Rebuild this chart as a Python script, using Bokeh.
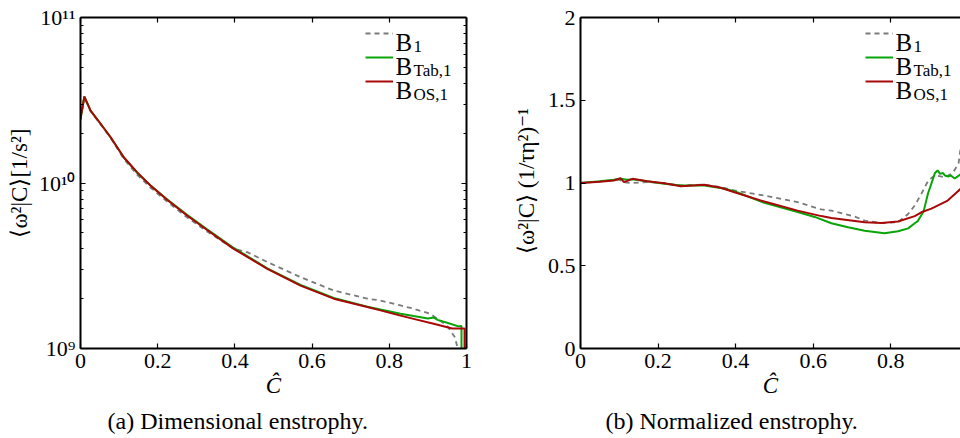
from bokeh.plotting import figure
from bokeh.layouts import row
from bokeh.models import (FixedTicker, LinearAxis, Range1d, Legend, LegendItem,
                          Label, Title)
from bokeh.embed import file_html
from bokeh.resources import INLINE

FONT = "Liberation Serif"

# ---------------- data: panel (a) dimensional enstrophy ----------------
a_b1_x = [0.0, 0.010, 0.026, 0.052, 0.078, 0.112, 0.147, 0.181, 0.225, 0.276, 0.328, 0.397,
          0.432, 0.484, 0.570, 0.656, 0.743, 0.777, 0.829, 0.863, 0.906, 0.949, 0.970, 0.975, 0.975]
a_b1_y = [2.40e10, 3.30e10, 2.72e10, 2.26e10, 1.87e10, 1.40e10, 1.12e10, 9.4e9, 7.7e9, 6.2e9, 5.1e9, 4.0e9,
          3.82e9, 3.33e9, 2.70e9, 2.24e9, 2.00e9, 1.95e9, 1.82e9, 1.74e9, 1.62e9, 1.38e9, 1.17e9, 1.05e9, 5e8]

a_tab_x = [0.0, 0.010, 0.026, 0.052, 0.078, 0.112, 0.147, 0.181, 0.225, 0.276, 0.328, 0.397,
           0.484, 0.570, 0.656, 0.743, 0.777, 0.829, 0.863, 0.900, 0.915, 0.925, 0.950, 0.979, 0.985, 0.987, 0.987]
a_tab_y = [2.44e10, 3.33e10, 2.74e10, 2.28e10, 1.89e10, 1.43e10, 1.15e10, 9.7e9, 7.95e9, 6.42e9, 5.25e9, 4.05e9,
           3.05e9, 2.42e9, 2.02e9, 1.79e9, 1.72e9, 1.62e9, 1.57e9, 1.52e9, 1.54e9, 1.49e9, 1.43e9, 1.36e9, 1.37e9, 1.36e9, 5e8]

a_os_x = [0.0, 0.010, 0.026, 0.052, 0.078, 0.112, 0.147, 0.181, 0.225, 0.276, 0.328, 0.397,
          0.484, 0.570, 0.656, 0.743, 0.777, 0.829, 0.863, 0.915, 0.963, 0.994, 0.995, 0.995]
a_os_y = [2.44e10, 3.33e10, 2.74e10, 2.28e10, 1.89e10, 1.43e10, 1.16e10, 9.66e9, 7.9e9, 6.36e9, 5.2e9, 4.0e9,
          3.03e9, 2.40e9, 2.00e9, 1.78e9, 1.70e9, 1.58e9, 1.51e9, 1.41e9, 1.32e9, 1.32e9, 1.32e9, 5e8]

# ---------------- data: panel (b) normalized enstrophy ----------------
b_b1_x = [0.0, 0.05, 0.100, 0.112, 0.130, 0.172, 0.216, 0.259, 0.319, 0.362, 0.397, 0.474, 0.560,
          0.621, 0.647, 0.707, 0.733, 0.776, 0.819, 0.845, 0.862, 0.879, 0.897, 0.914, 0.940, 0.960, 0.975, 0.983]
b_b1_y = [1.0, 1.01, 1.02, 1.005, 1.0, 1.005, 1.0, 0.985, 0.99, 0.975, 0.955, 0.924, 0.884,
          0.84, 0.833, 0.797, 0.773, 0.757, 0.763, 0.813, 0.864, 0.934, 1.015, 1.047, 1.035, 1.06, 1.118, 1.256]

b_tab_x = [0.0, 0.05, 0.086, 0.103, 0.120, 0.134, 0.172, 0.216, 0.259, 0.319, 0.362, 0.397, 0.474, 0.560,
           0.604, 0.647, 0.690, 0.733, 0.784, 0.819, 0.845, 0.862, 0.870, 0.885, 0.896, 0.914, 0.921, 0.927,
           0.935, 0.940, 0.948, 0.955, 0.965, 0.983]
b_tab_y = [1.0, 1.01, 1.02, 1.025, 1.02, 1.022, 1.01, 0.995, 0.985, 0.985, 0.97, 0.95, 0.88, 0.825,
           0.795, 0.757, 0.733, 0.712, 0.696, 0.708, 0.726, 0.757, 0.77, 0.83, 0.935, 1.06, 1.076, 1.055,
           1.06, 1.045, 1.039, 1.045, 1.027, 1.057]

b_os_x = [0.0, 0.05, 0.086, 0.103, 0.112, 0.134, 0.172, 0.216, 0.259, 0.319, 0.362, 0.397, 0.474, 0.560,
          0.621, 0.647, 0.733, 0.776, 0.819, 0.862, 0.879, 0.905, 0.947, 0.983]
b_os_y = [1.0, 1.008, 1.015, 1.029, 1.005, 1.025, 1.011, 0.999, 0.981, 0.989, 0.971, 0.944, 0.888, 0.833,
          0.80, 0.789, 0.763, 0.759, 0.767, 0.80, 0.823, 0.845, 0.894, 0.97]

# ---------------- ticks / labels ----------------
x_ticks = [0, 0.2, 0.4, 0.6, 0.8, 1.0]
x_tick_labels = ["0", "0.2", "0.4", "0.6", "0.8", "1"]
a_y_ticks = [1e9, 1e10, 1e11]
a_y_tick_labels = ["10⁹", "10¹⁰", "10¹¹"]
a_y_minor = [m * 10 ** e for e in (9, 10) for m in range(2, 10)]
b_y_ticks = [0, 0.5, 1, 1.5, 2]
b_y_tick_labels = ["0", "0.5", "1", "1.5", "2"]

series_names = ["B", "B", "B"]
series_subs = ["1", "Tab,1", "OS,1"]
COL_B1 = "#7a7a7a"
COL_TAB = "#08a408"
COL_OS = "#a80808"


def style_axis(ax, ticks, labels=None, minor=None, show_labels=True):
    ax.ticker = FixedTicker(ticks=ticks, minor_ticks=minor or [])
    ax.axis_line_width = 2
    ax.axis_line_color = "black"
    ax.major_tick_in = 5
    ax.major_tick_out = 0
    ax.major_tick_line_width = 1.2
    ax.minor_tick_in = 3
    ax.minor_tick_out = 0
    ax.minor_tick_line_width = 1
    ax.major_label_text_font = FONT
    ax.major_label_text_font_size = "22px"
    ax.major_label_text_color = "black"
    ax.axis_label_text_font = FONT
    ax.axis_label_text_font_size = "23px"
    ax.axis_label_text_font_style = "normal"
    ax.axis_label_text_color = "black"
    if show_labels:
        ax.major_label_overrides = dict(zip([float(t) for t in ticks], labels))
        ax.major_label_standoff = 5
    else:
        ax.major_label_overrides = {float(t): "" for t in ticks}
        ax.major_label_text_font_size = "1px"
        ax.major_label_standoff = 0


def add_legend(p):
    # legend swatches from the library; the "B" names and their subscripts are set as text labels
    r = p.renderers
    items = [LegendItem(label="", renderers=[r[i]]) for i in range(3)]
    leg = Legend(items=items, location=(285, 255), glyph_width=28, glyph_height=24,
                 label_height=24, label_width=1, label_standoff=0, spacing=0, padding=0, margin=0,
                 border_line_color=None, background_fill_alpha=0,
                 label_text_font=FONT, label_text_font_size="10px")
    p.add_layout(leg)
    for i in range(3):
        p.add_layout(Label(x=315, y=306 - 24 * i, x_units="screen", y_units="screen",
                           text=series_names[i], text_font=FONT, text_font_size="25px",
                           text_baseline="alphabetic", text_color="black"))
        p.add_layout(Label(x=333, y=302 - 24 * i, x_units="screen", y_units="screen",
                           text=series_subs[i], text_font=FONT, text_font_size="17px",
                           text_baseline="alphabetic", text_color="black"))


def draw(p, xs, ys):
    p.line(xs[0], ys[0], line_color=COL_B1, line_width=1.8, line_dash="5 4")
    p.line(xs[1], ys[1], line_color=COL_TAB, line_width=2)
    p.line(xs[2], ys[2], line_color=COL_OS, line_width=2)


def base_fig(width, left, right, **kw):
    p = figure(width=width, height=438, output_backend="svg", toolbar_location=None,
               min_border_left=left, min_border_right=right, min_border_top=17,
               min_border_bottom=90, **kw)
    p.grid.visible = False
    p.outline_line_color = None
    p.background_fill_color = "white"
    p.border_fill_color = "white"
    return p


# ---------------- panel (a) ----------------
p1 = base_fig(490, 80, 24, y_axis_type="log", x_range=Range1d(0, 1), y_range=Range1d(1e9, 1e11))
draw(p1, [a_b1_x, a_tab_x, a_os_x], [a_b1_y, a_tab_y, a_os_y])
style_axis(p1.xaxis[0], x_ticks, x_tick_labels)
style_axis(p1.yaxis[0], a_y_ticks, a_y_tick_labels, minor=a_y_minor)
p1.xaxis[0].axis_label = "Ĉ"
p1.xaxis[0].axis_label_text_font_style = "italic"
p1.xaxis[0].axis_label_standoff = 2
p1.yaxis[0].axis_label = "⟨ω²|C⟩[1/s²]"
p1.yaxis[0].axis_label_standoff = 4
top1 = LinearAxis()
style_axis(top1, x_ticks, show_labels=False)
p1.add_layout(top1, "above")
right1 = LinearAxis()
style_axis(right1, a_y_ticks, minor=a_y_minor, show_labels=False)
p1.add_layout(right1, "right")
add_legend(p1)
p1.add_layout(Title(text="(a) Dimensional enstrophy.", align="left", offset=27, text_font=FONT,
                    text_font_size="24px", text_font_style="normal", text_color="black"), "below")

# ---------------- panel (b) ----------------
p2 = base_fig(470, 90, 0, x_range=Range1d(0, 0.98), y_range=Range1d(0, 2))
draw(p2, [b_b1_x, b_tab_x, b_os_x], [b_b1_y, b_tab_y, b_os_y])
style_axis(p2.xaxis[0], x_ticks, x_tick_labels)
style_axis(p2.yaxis[0], b_y_ticks, b_y_tick_labels)
p2.xaxis[0].axis_label = "Ĉ"
p2.xaxis[0].axis_label_text_font_style = "italic"
p2.xaxis[0].axis_label_standoff = 2
p2.yaxis[0].axis_label = "⟨ω²|C⟩ (1/τη²)⁻¹"
p2.yaxis[0].axis_label_standoff = 6
top2 = LinearAxis()
style_axis(top2, x_ticks, show_labels=False)
p2.add_layout(top2, "above")
add_legend(p2)
p2.add_layout(Title(text="(b) Normalized enstrophy.", align="left", offset=25, text_font=FONT,
                    text_font_size="24px", text_font_style="normal", text_color="black"), "below")

layout = row(p1, p2, spacing=0)
open("out.html", "w").write(file_html(layout, INLINE))
